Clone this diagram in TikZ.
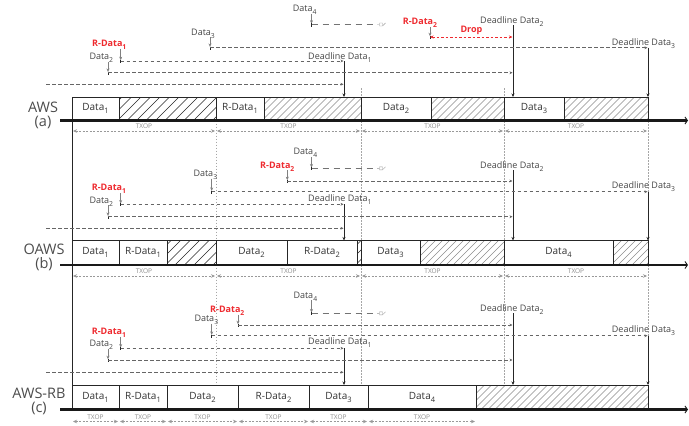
\documentclass[tikz,border=0pt]{standalone}
\usepackage{fontspec}
\setmainfont{Open Sans}
\usetikzlibrary{arrows.meta}
\definecolor{txt}{HTML}{454545}
\definecolor{rd}{HTML}{EE2A2F}
\definecolor{ln}{HTML}{262626}
\newcommand{\lsub}[1]{\raisebox{-0.6ex}{\fontsize{6.8}{7}\selectfont #1}}
\newcommand{\bsub}[1]{\raisebox{-0.6ex}{\fontsize{7.5}{8}\selectfont #1}}
\newcommand{\hatchrect}[6]{%
  \begin{scope}
    \clip (#1,#2) rectangle (#3,#4);
    \pgfmathsetmacro{\hA}{#1-30}
    \pgfmathsetmacro{\hB}{#1-30+#5}
    \foreach \xx in {\hA,\hB,...,#3} \draw[#6] (\xx,#4) -- ++(30,-30);
  \end{scope}}
\newcommand{\tslot}[6]{%
  \pgfmathsetmacro{\sw}{#3-#2}%
  \pgfmathsetmacro{\sh}{#5-#4}%
  \pgfmathsetmacro{\sx}{(#2+#3)/2}%
  \pgfmathsetmacro{\sy}{(#4+#5)/2}%
  \node[slot, minimum width=\sw pt, minimum height=\sh pt] (#1) at (\sx,\sy) {#6};}
\newcommand{\arrival}[7]{%
  \node[#2] (#1l) at (#3,#4+3.2) {#7};
  \coordinate (#1) at (#5,#6);
  \draw[arr] (#1l.base -| #1) ++(0,2) -- ([yshift=0.8pt]#1);
  \draw[tick] ([yshift=1.2pt]#1) -- ([yshift=-2pt]#1);}
\newcommand{\deadln}[7]{%
  \node[lbl] (#1l) at (#2,#3+3.2) {#7};
  \coordinate (#1t) at (#4,#5);
  \coordinate (#1b) at (#4,#6);
  \draw[dl] (#1t) -- (#1b);}
\newcommand{\cutglyph}[1]{%
  \draw[black!40, line width=0.4pt] (#1) -- ++(2.5,0) ++(0,-1.5) rectangle ++(3,3) ++(0.5,-0.5) -- ++(2.5,-2.5);}
\begin{document}
\begin{tikzpicture}[x=1pt,y=-1pt,
  lbl/.style={font=\fontsize{9}{10}\selectfont, text=txt, inner sep=0pt, anchor=base west},
  rlbl/.style={lbl, text=rd, font=\fontsize{9}{10}\selectfont\bfseries},
  plbl/.style={font=\fontsize{14.5}{14}\selectfont, text=black!70, inner sep=0pt, align=center},
  slot/.style={draw=ln, line width=0.8pt, inner sep=0pt, font=\fontsize{10}{11}\selectfont, text=black!80},
  axisl/.style={line width=2.3pt, draw=black!90, -{Straight Barb[length=2.5pt,width=7pt,line width=0.9pt]}},
  dl/.style={draw=ln, line width=0.8pt, -{Stealth[length=3.5pt,width=3pt]}},
  dsh/.style={draw=black!60, line width=0.6pt, dash pattern=on 3.5pt off 2.5pt, -{Stealth[length=3pt,width=2.8pt]}, shorten >=0.5pt},
  dsh4/.style={draw=black!55, line width=0.7pt, dash pattern=on 6pt off 5pt},
  arr/.style={draw=black!50, line width=0.6pt, -{Stealth[length=3.5pt,width=3pt]}},
  tick/.style={draw=ln, line width=0.7pt},
  drop/.style={draw=rd, line width=0.6pt, dash pattern=on 2.5pt off 2pt, {Stealth[length=3.5pt,width=3pt]}-{Stealth[length=3.5pt,width=3pt]}, shorten >=0.5pt},
  txop/.style={draw=black!40, line width=0.5pt, dash pattern=on 2pt off 1.5pt, {Stealth[length=4pt,width=3.5pt]}-{Stealth[length=4pt,width=3.5pt]}, shorten <=1pt, shorten >=1pt},
  txl/.style={font=\fontsize{6.5}{7}\selectfont, text=black!45, inner sep=0pt, above=2pt},
  vdot/.style={draw=black!35, line width=0.5pt, dash pattern=on 1.5pt off 1.5pt},
  dk/.style={draw=ln, line width=0.6pt},
  lt/.style={draw=black!45, line width=0.45pt},
]
\useasboundingbox (0,0) rectangle (689,426);

% guides
\draw[vdot] (216,120.5) -- (216,385);
\draw[vdot] (361,88) -- (361,385);
\draw[vdot] (504,88) -- (504,385);
\draw[vdot] (648,97) -- (648,385);
\draw[draw=ln, line width=0.9pt] (72,97) -- (72,409.5);

% ================= panel a
\node[plbl] (pa) at (43,115) {AWS\\(a)};
\hatchrect{119}{97}{216}{120.5}{9.5}{dk}
\hatchrect{264}{97}{361}{120.5}{7}{lt}
\hatchrect{431}{97}{504}{120.5}{7}{lt}
\hatchrect{564}{97}{648}{120.5}{7}{lt}
\tslot{aS1}{72}{119}{97}{120.5}{Data\bsub1}
\tslot{aH1}{119}{216}{97}{120.5}{}
\tslot{aS2}{216}{264}{97}{120.5}{R-Data\bsub1}
\tslot{aH2}{264}{361}{97}{120.5}{}
\tslot{aS3}{361}{431}{97}{120.5}{Data\bsub2}
\tslot{aH3}{431}{504}{97}{120.5}{}
\tslot{aS4}{504}{564}{97}{120.5}{Data\bsub3}
\tslot{aH4}{564}{648}{97}{120.5}{}
\draw[axisl] (60,120.5) -- (688,120.5);
\draw[txop] (72,131) -- node[txl]{TXOP} (216,131);
\draw[txop] (216,131) -- node[txl]{TXOP} (361,131);
\draw[txop] (361,131) -- node[txl]{TXOP} (504,131);
\draw[txop] (504,131) -- node[txl]{TXOP} (648,131);

\deadln{aE2}{480}{20}{513}{25}{97}{Deadline Data\lsub2}
\deadln{aE3}{611.7}{42}{648}{47.7}{97}{Deadline Data\lsub3}
\deadln{aE1}{308}{56}{344}{61}{97}{Deadline Data\lsub1}
\arrival{aD4}{lbl}{292.7}{8.3}{311.5}{24.5}{Data\lsub4}
\arrival{aR2}{rlbl}{402.7}{21.7}{430}{37}{R-Data\lsub2}
\arrival{aD3}{lbl}{191}{32}{210}{47.7}{Data\lsub3}
\arrival{aR1}{rlbl}{92}{43.3}{120.7}{61}{R-Data\lsub1}
\arrival{aD2}{lbl}{89.3}{56.7}{108}{72.7}{Data\lsub2}
\coordinate (aP) at (46,84.3);
\coordinate (aG) at (377,24.5);
\draw[dsh4] (aD4) -- (aG);
\cutglyph{aG}
\draw[drop] (aR2) -- node[above=2pt, inner sep=0pt, text=rd, font=\fontsize{9}{10}\selectfont\bfseries]{Drop} (aE2t |- aR2);
\draw[dsh] (aD3) -- (aE3t |- aD3);
\draw[dsh] (aR1) -- (aE1t |- aR1);
\draw[dsh] (aD2) -- (aE2t |- aD2);
\draw[dsh] (aP) -- (aE1t |- aP);

% ================= panel b
\node[plbl] (pb) at (44,257.5) {OAWS\\(b)};
\hatchrect{167}{240.5}{216}{265}{9.5}{dk}
\hatchrect{357}{240.5}{361}{265}{9.5}{dk}
\hatchrect{420}{240.5}{504}{265}{7}{lt}
\hatchrect{613}{240.5}{648}{265}{7}{lt}
\tslot{bS1}{72}{119}{240.5}{265}{Data\bsub1}
\tslot{bS2}{119}{167}{240.5}{265}{R-Data\bsub1}
\tslot{bH1}{167}{216}{240.5}{265}{}
\tslot{bS3}{216}{287}{240.5}{265}{Data\bsub2}
\tslot{bS4}{287}{357}{240.5}{265}{R-Data\bsub2}
\tslot{bH2}{357}{361}{240.5}{265}{}
\tslot{bS5}{361}{420}{240.5}{265}{Data\bsub3}
\tslot{bH3}{420}{504}{240.5}{265}{}
\tslot{bS6}{504}{613}{240.5}{265}{Data\bsub4}
\tslot{bH4}{613}{648}{240.5}{265}{}
\draw[axisl] (60,265) -- (688,265);
\draw[txop] (72,276) -- node[txl]{TXOP} (216,276);
\draw[txop] (216,276) -- node[txl]{TXOP} (361,276);
\draw[txop] (361,276) -- node[txl]{TXOP} (504,276);
\draw[txop] (504,276) -- node[txl]{TXOP} (648,276);

\deadln{bE2}{480}{165}{513}{170}{240.5}{Deadline Data\lsub2}
\deadln{bE3}{611.7}{185}{648}{191.7}{240.5}{Deadline Data\lsub3}
\deadln{bE1}{308}{198.3}{344}{204.3}{240.5}{Deadline Data\lsub1}
\arrival{bD4}{lbl}{293.3}{151.7}{311.5}{168.3}{Data\lsub4}
\arrival{bR2}{rlbl}{260}{165}{287.3}{181}{R-Data\lsub2}
\arrival{bD3}{lbl}{193.3}{173.3}{211.7}{191.7}{Data\lsub3}
\arrival{bR1}{rlbl}{91.7}{187.7}{120.7}{204.3}{R-Data\lsub1}
\arrival{bD2}{lbl}{89.3}{200}{108}{216.7}{Data\lsub2}
\coordinate (bP) at (46,228.3);
\coordinate (bG) at (377,168.3);
\draw[dsh4] (bD4) -- (bG);
\cutglyph{bG}
\draw[dsh] (bR2) -- (bE2t |- bR2);
\draw[dsh] (bD3) -- (bE3t |- bD3);
\draw[dsh] (bR1) -- (bE1t |- bR1);
\draw[dsh] (bD2) -- (bE2t |- bD2);
\draw[dsh] (bP) -- (bE1t |- bP);

% ================= panel c
\node[plbl] (pc) at (39,401.5) {AWS-RB\\(c)};
\hatchrect{476}{385}{648}{409.5}{7}{lt}
\tslot{cS1}{72}{119}{385}{409.5}{Data\bsub1}
\tslot{cS2}{119}{167}{385}{409.5}{R-Data\bsub1}
\tslot{cS3}{167}{238}{385}{409.5}{Data\bsub2}
\tslot{cS4}{238}{309}{385}{409.5}{R-Data\bsub2}
\tslot{cS5}{309}{368}{385}{409.5}{Data\bsub3}
\tslot{cS6}{368}{476}{385}{409.5}{Data\bsub4}
\tslot{cH1}{476}{648}{385}{409.5}{}
\draw[axisl] (60,409.5) -- (688,409.5);
\draw[txop] (72,421.5) -- node[txl]{TXOP} (119,421.5);
\draw[txop] (119,421.5) -- node[txl]{TXOP} (167,421.5);
\draw[txop] (167,421.5) -- node[txl]{TXOP} (238,421.5);
\draw[txop] (238,421.5) -- node[txl]{TXOP} (309,421.5);
\draw[txop] (309,421.5) -- node[txl]{TXOP} (368,421.5);
\draw[txop] (368,421.5) -- node[txl]{TXOP} (476,421.5);

\deadln{cE2}{480}{308.3}{513}{313}{385}{Deadline Data\lsub2}
\deadln{cE3}{611.7}{329.3}{648}{335.7}{385}{Deadline Data\lsub3}
\deadln{cE1}{308}{341.7}{344}{348.3}{385}{Deadline Data\lsub1}
\arrival{cD4}{lbl}{293.3}{295}{311.5}{313.3}{Data\lsub4}
\arrival{cR2}{rlbl}{210}{309.3}{238}{325}{R-Data\lsub2}
\arrival{cD3}{lbl}{194.3}{318.3}{211.7}{335.7}{Data\lsub3}
\arrival{cR1}{rlbl}{91.7}{331.7}{120.7}{348.3}{R-Data\lsub1}
\arrival{cD2}{lbl}{89.3}{343.3}{108}{360}{Data\lsub2}
\coordinate (cP) at (46,372.3);
\coordinate (cG) at (377,313.3);
\draw[dsh4] (cD4) -- (cG);
\cutglyph{cG}
\draw[dsh] (cR2) -- (cE2t |- cR2);
\draw[dsh] (cD3) -- (cE3t |- cD3);
\draw[dsh] (cR1) -- (cE1t |- cR1);
\draw[dsh] (cD2) -- (cE2t |- cD2);
\draw[dsh] (cP) -- (cE1t |- cP);
\end{tikzpicture}
\end{document}
